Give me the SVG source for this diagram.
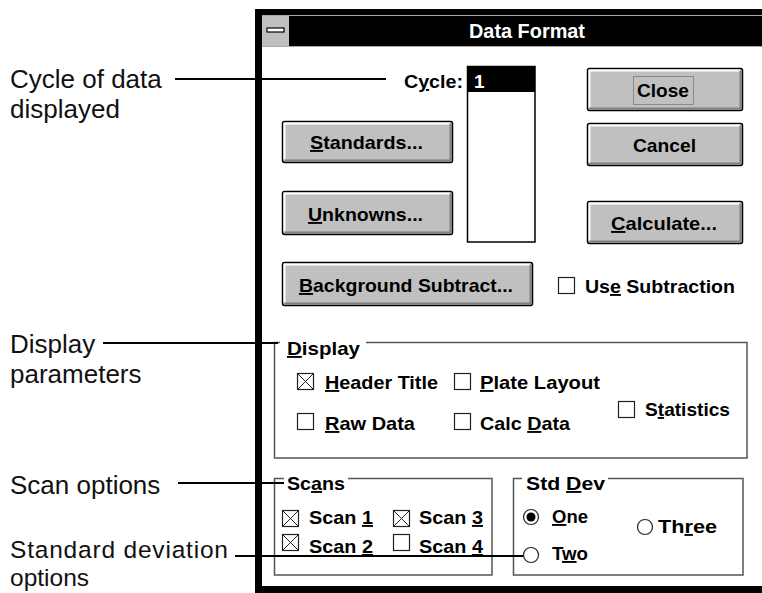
<svg xmlns="http://www.w3.org/2000/svg" width="762" height="593" viewBox="0 0 762 593">
<style>
.lbl{font-family:"Liberation Sans",Arial,sans-serif;font-size:26px;fill:#111}
.lbs{font-family:"Liberation Sans",Arial,sans-serif;font-size:24.5px;fill:#111}
.ui{font-family:"Liberation Sans",Arial,sans-serif;font-weight:bold;font-size:19px;fill:#000}
.btn{fill:#c0c0c0;stroke:#000;stroke-width:1.5}
.hi{fill:none;stroke:#fff;stroke-width:2}
.sh{fill:none;stroke:#808080;stroke-width:2}
.grp{fill:none;stroke:#555;stroke-width:1.5}
.cb{fill:#fff;stroke:#222;stroke-width:1.2}
.x{stroke:#222;stroke-width:1}
.conn{stroke:#000;stroke-width:2;fill:none}
.u{text-decoration:underline}
</style>

<rect width="762" height="593" fill="#fff"/>

<g id="window">
<rect x="255" y="9" width="507" height="584" fill="#000"/>
<rect x="262" y="47" width="500" height="539" fill="#fff"/>
<line x1="262" y1="15.5" x2="762" y2="15.5" stroke="#a8a8a8" stroke-width="1"/>
<line x1="262" y1="46.5" x2="762" y2="46.5" stroke="#a8a8a8" stroke-width="1"/>
<rect x="262" y="16" width="27" height="30" fill="#c0c0c0"/>
<line x1="289.5" y1="16" x2="289.5" y2="46" stroke="#000" stroke-width="1"/>
<rect x="267" y="28" width="17" height="4" fill="#fff" stroke="#000" stroke-width="1.2"/>
<text x="527" y="38" text-anchor="middle" font-family="Liberation Sans, Arial, sans-serif" font-weight="bold" font-size="20" fill="#fff" textLength="116" lengthAdjust="spacingAndGlyphs">Data Format</text>
</g>

<g id="cycle">
<text class="ui" x="404" y="88" textLength="59" lengthAdjust="spacingAndGlyphs">C<tspan class="u">y</tspan>cle:</text>
<rect x="467.5" y="66.5" width="67.5" height="175.5" fill="#fff" stroke="#000" stroke-width="1.5"/>
<rect x="467.5" y="66.5" width="67.5" height="25.5" fill="#000"/>
<text class="ui" x="474" y="88" style="fill:#fff">1</text>
</g>

<g id="btn-standards">
<rect class="btn" x="282.5" y="121.5" width="170" height="41" rx="2"/>
<polyline class="hi" points="284.5,159.5 284.5,123.5 450.5,123.5"/>
<polyline class="sh" points="284.5,160.5 450.5,160.5 450.5,123.5"/>
<text class="ui" x="310" y="149" textLength="113" lengthAdjust="spacingAndGlyphs"><tspan class="u">S</tspan>tandards...</text>
</g>

<g id="btn-unknowns">
<rect class="btn" x="282.5" y="191.5" width="170" height="43" rx="2"/>
<polyline class="hi" points="284.5,231.5 284.5,193.5 450.5,193.5"/>
<polyline class="sh" points="284.5,232.5 450.5,232.5 450.5,193.5"/>
<text class="ui" x="308" y="221" textLength="115" lengthAdjust="spacingAndGlyphs"><tspan class="u">U</tspan>nknowns...</text>
</g>

<g id="btn-close">
<rect class="btn" x="587.5" y="68.5" width="155" height="42" rx="2"/>
<polyline class="hi" points="589.5,107.5 589.5,70.5 740.5,70.5"/>
<polyline class="sh" points="589.5,108.5 740.5,108.5 740.5,70.5"/>
<rect x="633.5" y="76.5" width="60" height="28" fill="none" stroke="#555" stroke-width="1" stroke-dasharray="1 1"/>
<text class="ui" x="637" y="97" textLength="52" lengthAdjust="spacingAndGlyphs">Close</text>
</g>

<g id="btn-cancel">
<rect class="btn" x="587.5" y="123.5" width="155" height="42" rx="2"/>
<polyline class="hi" points="589.5,162.5 589.5,125.5 740.5,125.5"/>
<polyline class="sh" points="589.5,163.5 740.5,163.5 740.5,125.5"/>
<text class="ui" x="633" y="152" textLength="63" lengthAdjust="spacingAndGlyphs">Cancel</text>
</g>

<g id="btn-calculate">
<rect class="btn" x="587.5" y="201.5" width="155" height="42" rx="2"/>
<polyline class="hi" points="589.5,240.5 589.5,203.5 740.5,203.5"/>
<polyline class="sh" points="589.5,241.5 740.5,241.5 740.5,203.5"/>
<text class="ui" x="611" y="230" textLength="106" lengthAdjust="spacingAndGlyphs"><tspan class="u">C</tspan>alculate...</text>
</g>

<g id="btn-background">
<rect class="btn" x="282.5" y="262.5" width="250" height="43" rx="2"/>
<polyline class="hi" points="284.5,302.5 284.5,264.5 530.5,264.5"/>
<polyline class="sh" points="284.5,303.5 530.5,303.5 530.5,264.5"/>
<text class="ui" x="299" y="292" textLength="214" lengthAdjust="spacingAndGlyphs"><tspan class="u">B</tspan>ackground Subtract...</text>
</g>

<g id="chk-use-subtraction">
<rect class="cb" x="558.5" y="277.5" width="16" height="16"/>
<text class="ui" x="585" y="293" textLength="150" lengthAdjust="spacingAndGlyphs">Us<tspan class="u">e</tspan> Subtraction</text>
</g>

<g id="grp-display">
<path class="grp" d="M280 342.5 H274.5 V458 H747 V342.5 H366"/>
<text class="ui" x="287" y="355" textLength="73" lengthAdjust="spacingAndGlyphs"><tspan class="u">D</tspan>isplay</text>
<rect class="cb" x="297.5" y="373.5" width="16" height="16"/>
<path class="x" d="M297.5 373.5 L313.5 389.5 M313.5 373.5 L297.5 389.5"/>
<text class="ui" x="325" y="389" textLength="113" lengthAdjust="spacingAndGlyphs"><tspan class="u">H</tspan>eader Title</text>
<rect class="cb" x="454.5" y="373.5" width="16" height="16"/>
<text class="ui" x="480" y="389" textLength="120" lengthAdjust="spacingAndGlyphs"><tspan class="u">P</tspan>late Layout</text>
<rect class="cb" x="297.5" y="413.5" width="16" height="16"/>
<text class="ui" x="325" y="430" textLength="90" lengthAdjust="spacingAndGlyphs"><tspan class="u">R</tspan>aw Data</text>
<rect class="cb" x="454.5" y="413.5" width="16" height="16"/>
<text class="ui" x="480" y="430" textLength="90" lengthAdjust="spacingAndGlyphs">Calc <tspan class="u">D</tspan>ata</text>
<rect class="cb" x="618.5" y="401.5" width="16" height="16"/>
<text class="ui" x="645" y="416" textLength="85" lengthAdjust="spacingAndGlyphs">S<tspan class="u">t</tspan>atistics</text>
</g>

<g id="grp-scans">
<path class="grp" d="M284 478.5 H274.5 V575 H492 V478.5 H348"/>
<text class="ui" x="287" y="490" textLength="58" lengthAdjust="spacingAndGlyphs">Sc<tspan class="u">a</tspan>ns</text>
<rect class="cb" x="282.5" y="510.5" width="16" height="16"/>
<path class="x" d="M282.5 510.5 L298.5 526.5 M298.5 510.5 L282.5 526.5"/>
<text class="ui" x="309" y="524" textLength="64" lengthAdjust="spacingAndGlyphs">Scan <tspan class="u">1</tspan></text>
<rect class="cb" x="393.5" y="510.5" width="16" height="16"/>
<path class="x" d="M393.5 510.5 L409.5 526.5 M409.5 510.5 L393.5 526.5"/>
<text class="ui" x="419" y="524" textLength="64" lengthAdjust="spacingAndGlyphs">Scan <tspan class="u">3</tspan></text>
<rect class="cb" x="282.5" y="534.5" width="16" height="16"/>
<path class="x" d="M282.5 534.5 L298.5 550.5 M298.5 534.5 L282.5 550.5"/>
<text class="ui" x="309" y="553" textLength="64" lengthAdjust="spacingAndGlyphs">Scan <tspan class="u">2</tspan></text>
<rect class="cb" x="393.5" y="534.5" width="16" height="16"/>
<text class="ui" x="419" y="553" textLength="64" lengthAdjust="spacingAndGlyphs">Scan <tspan class="u">4</tspan></text>
</g>

<g id="grp-stddev">
<path class="grp" d="M522 478.5 H513.5 V575 H743 V478.5 H608"/>
<text class="ui" x="526" y="490" textLength="79" lengthAdjust="spacingAndGlyphs">Std <tspan class="u">D</tspan>ev</text>
<circle cx="531" cy="517" r="7.5" fill="#fff" stroke="#222" stroke-width="1.2"/>
<circle cx="531" cy="517" r="4.5" fill="#000"/>
<text class="ui" x="552" y="523" textLength="36" lengthAdjust="spacingAndGlyphs"><tspan class="u">O</tspan>ne</text>
<circle cx="531" cy="555" r="7.5" fill="#fff" stroke="#222" stroke-width="1.2"/>
<text class="ui" x="552" y="560" textLength="36" lengthAdjust="spacingAndGlyphs">T<tspan class="u">w</tspan>o</text>
<circle cx="645" cy="527" r="7.5" fill="#fff" stroke="#222" stroke-width="1.2"/>
<text class="ui" x="658" y="533" textLength="59" lengthAdjust="spacingAndGlyphs">Th<tspan class="u">r</tspan>ee</text>
</g>

<g id="label-cycle">
<text class="lbl" x="10" y="88">Cycle of data</text>
<text class="lbl" x="10" y="118">displayed</text>
</g>
<g id="label-display">
<text class="lbl" x="10" y="353">Display</text>
<text class="lbl" x="10" y="383">parameters</text>
</g>
<g id="label-scan">
<text class="lbl" x="10" y="494">Scan options</text>
</g>
<g id="label-stddev">
<text class="lbs" x="10" y="558" textLength="218" lengthAdjust="spacing">Standard deviation</text>
<text class="lbs" x="10" y="586">options</text>
</g>

<g id="connectors">
<line class="conn" x1="175" y1="79" x2="386" y2="79"/>
<line class="conn" x1="103" y1="343" x2="278" y2="343"/>
<line class="conn" x1="178" y1="483" x2="284" y2="483"/>
<line class="conn" x1="235" y1="556" x2="523" y2="556"/>
</g>
</svg>
